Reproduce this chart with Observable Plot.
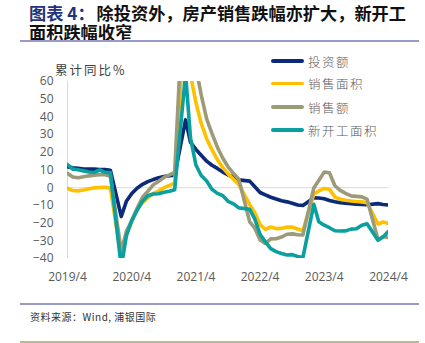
<!DOCTYPE html>
<html>
<head>
<meta charset="utf-8">
<script src="https://cdn.jsdelivr.net/npm/d3@7"></script>
<script src="https://cdn.jsdelivr.net/npm/@observablehq/plot@0.6"></script>
<style>
  html, body { margin: 0; padding: 0; background: #fff; }
  #wrap { position: relative; width: 425px; height: 343px; overflow: hidden; font-family: "Noto Sans CJK SC", sans-serif; }
  .abs { position: absolute; }
  .title { left: 29px; font-size: 17.2px; line-height: 19px; height: 19px; font-weight: 700; color: #111; white-space: nowrap; }
  .title .lbl { color: #26337a; margin-right: 2px; }
  .rule { position: absolute; left: 20px; width: 399px; height: 1.5px; }
  #legend .row { position: absolute; left: 271px; height: 20px; display: flex; align-items: center; }
  #legend .sw { width: 33px; height: 3.5px; border-radius: 2px; }
  #legend .tx { margin-left: 4px; font-size: 12.5px; letter-spacing: 1.5px; color: #595959; font-weight: 300; }
  #ylab { left: 55px; top: 61px; font-size: 12.5px; letter-spacing: 2px; color: #404040; line-height: 18px; }
  #source { left: 30px; top: 309px; font-size: 10px; letter-spacing: 0.5px; color: #333; line-height: 15px; }
  #plot { left: 0; top: 60px; }
</style>
</head>
<body>
<div id="wrap">
  <div class="abs title" style="top:3px;"><span class="lbl">图表 4：</span>除投资外，房产销售跌幅亦扩大，新开工</div>
  <div class="abs title" style="top:22px;">面积跌幅收窄</div>
  <div class="rule" style="top:40px;background:#9a9ac6;"></div>
  <div id="plot" class="abs"></div>
  <div id="ylab" class="abs">累计同比%</div>
  <div id="legend"></div>
  <div class="rule" style="top:303px;background:#9a9ac6;"></div>
  <div id="source" class="abs">资料来源：Wind, 浦银国际</div>
  <div class="rule" style="top:341px;background:#b7b99a;"></div>
</div>
<script>
// ---- data ----
const months = [
  "2019-04","2019-05","2019-06","2019-07","2019-08","2019-09","2019-10","2019-11","2019-12",
  "2020-02","2020-03","2020-04","2020-05","2020-06","2020-07","2020-08","2020-09","2020-10","2020-11","2020-12",
  "2021-02","2021-03","2021-04","2021-05","2021-06","2021-07","2021-08","2021-09","2021-10","2021-11","2021-12",
  "2022-02","2022-03","2022-04","2022-05","2022-06","2022-07","2022-08","2022-09","2022-10","2022-11","2022-12",
  "2023-02","2023-03","2023-04","2023-05","2023-06","2023-07","2023-08","2023-09","2023-10","2023-11","2023-12",
  "2024-02","2024-03","2024-04"
];
const seriesNames = ["投资额", "销售面积", "销售额", "新开工面积"];
const seriesColors = ["#0b2a78", "#ffc000", "#9c9a78", "#0aa0a0"];

const investment = [
  11.9, 11.2, 10.9, 10.6, 10.5, 10.5, 10.3, 10.2, 9.9,
  -16.3, -7.7, -3.3, -0.3, 1.9, 3.4, 4.6, 5.6, 6.3, 6.8, 7.0,
  38.3, 25.6, 21.6, 18.3, 15.0, 12.7, 10.9, 8.8, 7.2, 6.0, 4.4,
  3.7, 0.7, -2.7, -4.0, -5.4, -6.4, -7.4, -8.0, -8.8, -9.8, -10.0,
  -5.7, -5.8, -6.2, -7.2, -7.9, -8.5, -8.8, -9.1, -9.3, -9.4, -9.6,
  -9.0, -9.5, -9.8
];
const salesArea = [
  -0.3, -1.6, -1.8, -1.3, -0.6, -0.1, 0.1, 0.2, -0.1,
  -39.9, -26.3, -19.3, -12.3, -8.4, -5.8, -3.3, -1.8, 0.0, 1.3, 2.6,
  104.9, 63.8, 48.1, 36.3, 27.7, 21.5, 15.9, 11.3, 7.8, 4.8, 1.9,
  -9.6, -13.8, -20.9, -23.6, -22.2, -23.1, -23.0, -22.2, -22.3, -23.3, -24.3,
  -3.6, -1.8, -0.4, -0.9, -5.3, -6.5, -7.1, -7.5, -7.8, -8.0, -8.5,
  -20.5, -19.4, -20.2
];
const salesValue = [
  8.1, 6.1, 5.6, 6.2, 6.7, 7.1, 7.3, 7.3, 6.5,
  -35.9, -24.7, -18.6, -11.6, -5.4, -2.1, 1.6, 3.7, 5.8, 7.2, 8.7,
  133.4, 88.5, 68.2, 52.4, 38.9, 30.7, 22.9, 16.6, 11.8, 8.0, 4.8,
  -19.3, -22.7, -29.5, -31.5, -28.9, -28.8, -27.9, -26.3, -26.1, -26.6, -26.7,
  -0.1, 4.1, 8.8, 8.4, 1.1, -1.5, -3.2, -4.6, -4.9, -5.2, -6.5,
  -29.3, -27.6, -28.1
];
const newStarts = [
  13.1, 10.5, 10.1, 9.5, 8.9, 8.6, 10.0, 8.6, 8.5,
  -44.9, -27.2, -18.4, -12.8, -7.6, -4.5, -3.6, -3.4, -2.6, -2.0, -1.2,
  64.3, 28.2, 12.8, 6.9, 3.8, -0.9, -3.2, -4.5, -7.7, -9.1, -11.4,
  -12.2, -17.5, -26.3, -30.6, -34.4, -36.1, -37.2, -38.0, -37.8, -38.9, -39.4,
  -9.4, -19.2, -21.2, -22.6, -24.3, -24.5, -24.4, -23.4, -23.2, -21.2, -20.4,
  -29.7, -27.8, -24.6
];
const xTickLabels = ["2019/4", "2020/4", "2021/4", "2022/4", "2023/4", "2024/4"];
const yTicks = [-40, -30, -20, -10, 0, 10, 20, 30, 40, 50, 60];

// ---- build ----
const parse = d3.utcParse("%Y-%m");
const valuesList = [investment, salesArea, salesValue, newStarts];
const rows = [];
seriesNames.forEach((name, si) => {
  valuesList[si].forEach((v, i) => rows.push({series: name, date: parse(months[i]), value: v}));
});
const tickDates = xTickLabels.map(s => { const [y, m] = s.split("/"); return new Date(Date.UTC(+y, +m - 1, 1)); });
const labelOf = new Map(tickDates.map((d, i) => [+d, xTickLabels[i]]));
const xDomain = [parse(months[0]), parse(months[months.length - 1])];

const lineMarks = seriesNames.map((name, si) =>
  Plot.line(rows.filter(r => r.series === name), {
    x: "date", y: "value", stroke: seriesColors[si], strokeWidth: 3.6,
    strokeLinejoin: "round", strokeLinecap: "round", clip: true
  })
);

const chart = Plot.plot({
  width: 425,
  height: 230,
  marginLeft: 67,
  marginRight: 37,
  marginTop: 21,
  marginBottom: 32,
  style: { fontFamily: "'Open Sans', sans-serif", fontSize: "12px", color: "#595959", background: "transparent" },
  x: { type: "utc", domain: xDomain },
  y: { domain: [-40, 60] },
  marks: [
    Plot.ruleY([0], { stroke: "#d9d9d9", strokeWidth: 1 }),
    Plot.ruleX([xDomain[0]], { stroke: "#d9d9d9", strokeWidth: 1 }),
    Plot.axisY({ ticks: yTicks, tickSize: 0, tickPadding: 14, label: null }),
    Plot.axisX({ ticks: tickDates, tickFormat: d => labelOf.get(+d), tickSize: 0, tickPadding: 14, label: null }),
    ...lineMarks
  ]
});
document.getElementById("plot").appendChild(chart);

// legend
const legend = document.getElementById("legend");
const legendTops = [51, 73.5, 97, 120];
seriesNames.forEach((name, i) => {
  const row = document.createElement("div");
  row.className = "row";
  row.style.top = legendTops[i] + "px";
  row.innerHTML = `<div class="sw" style="background:${seriesColors[i]}"></div><div class="tx">${name}</div>`;
  legend.appendChild(row);
});
</script>
</body>
</html>
